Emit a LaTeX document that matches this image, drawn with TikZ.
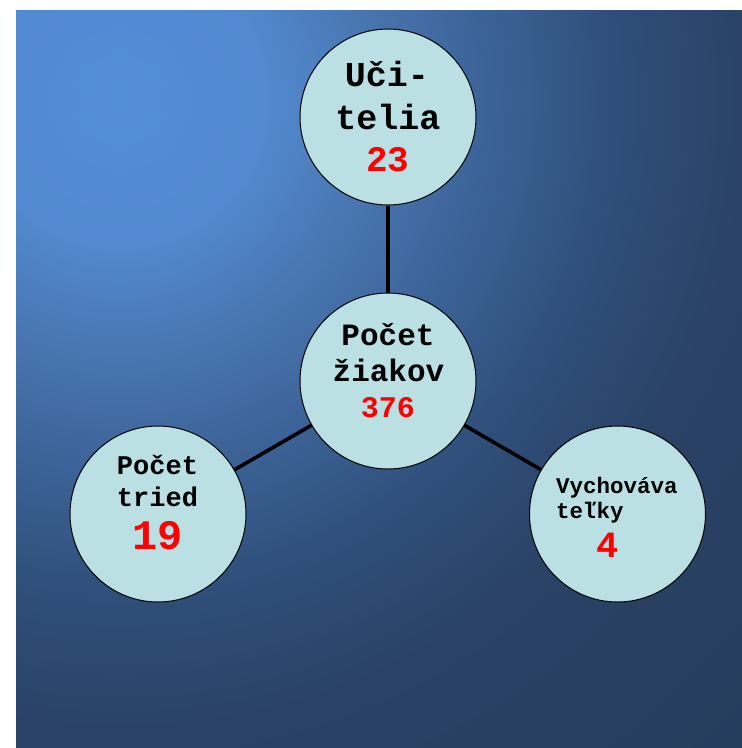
\documentclass[tikz,border=0pt]{standalone}
\usepackage{fontspec}
\newfontfamily\cour{Liberation Mono}
\definecolor{cfill}{RGB}{186,224,228}
\definecolor{numred}{RGB}{255,0,0}
\definecolor{gc0}{RGB}{84,142,214}
\definecolor{gc1}{RGB}{82,137,207}
\definecolor{gc2}{RGB}{72,117,175}
\definecolor{gc3}{RGB}{60,99,152}
\definecolor{gc4}{RGB}{47,80,123}
\definecolor{gc5}{RGB}{42,66,102}
\definecolor{gc6}{RGB}{39,61,94}
\tikzset{
  bubble/.style={circle,draw=black,line width=1pt,fill=cfill,minimum size=176pt,inner sep=0pt},
  conn/.style={draw=black,line width=3.6pt},
  lbl/.style={anchor=base,inner sep=0pt,font=\cour\bfseries},
  num/.style={anchor=base,inner sep=0pt,font=\cour\bfseries,text=numred}
}
\begin{document}
\begin{tikzpicture}[x=1pt,y=-1pt]
\useasboundingbox (0,0) rectangle (742,748);
\fill[white] (0,0) rectangle (742,748);
\begin{scope}
  \clip (16,10) rectangle (742,748);
  \fill[gc6] (16,10) rectangle (742,748);
  \foreach \rin/\rout/\cin/\cout in {630/900/gc5/gc6, 490/630/gc4/gc5, 370/490/gc3/gc4, 260/370/gc2/gc3, 150/260/gc1/gc2, 0/150/gc0/gc1} {
    \foreach \k in {0,...,29} {
      \pgfmathsetmacro\rr{\rout-\k*(\rout-\rin)/30}
      \pgfmathtruncatemacro\pp{100-\k*100/30}
      \fill[\cout!\pp!\cin] (120,100) circle[radius=\rr pt];
    }
  }
\end{scope}
% circles
\node[bubble] (u) at (388,117) {};
\node[bubble] (p) at (388,381) {};
\node[bubble] (t) at (158,514) {};
\node[bubble] (v) at (617.5,514) {};
% connectors
\draw[conn] (u) -- (p);
\draw[conn] (p) -- (t);
\draw[conn] (p) -- (v);
% texts
\node[lbl] (u1) at (387,86) {\fontsize{35}{35}\selectfont Uči-};
\node[lbl] (u2) at (388,129) {\fontsize{35}{35}\selectfont telia};
\node[num] (u3) at (388,171) {\fontsize{36}{36}\selectfont 23};
\node[lbl] (p1) at (388,345) {\fontsize{31}{31}\selectfont Počet};
\node[lbl] (p2) at (388.5,381) {\fontsize{31}{31}\selectfont žiakov};
\node[num] (p3) at (388,417) {\fontsize{30}{30}\selectfont 376};
\node[lbl] (t1) at (157.5,474) {\fontsize{27}{27}\selectfont Počet};
\node[lbl] (t2) at (157.5,506) {\fontsize{27}{27}\selectfont tried};
\node[num] (t3) at (157.5,549) {\fontsize{42}{42}\selectfont 19};
\node[lbl,anchor=base west] (v1) at (556,493) {\fontsize{22.5}{22.5}\selectfont Vychováva};
\node[lbl,anchor=base west] (v2) at (556,518.5) {\fontsize{22.5}{22.5}\selectfont teľky};
\node[num] (v3) at (608,557) {\fontsize{37}{37}\selectfont 4};
\end{tikzpicture}
\end{document}
